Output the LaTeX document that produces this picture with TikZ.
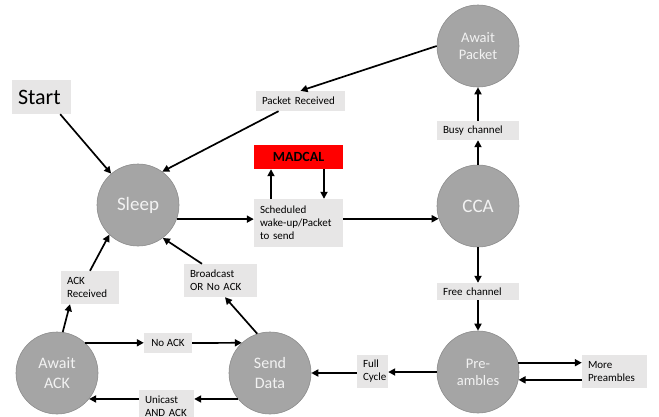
\documentclass[tikz,border=0pt]{standalone}
\usepackage{fontspec}
\setmainfont{Carlito}
\usetikzlibrary{arrows.meta}
\definecolor{circfill}{HTML}{A5A5A5}
\definecolor{circdraw}{HTML}{8C8C8C}
\definecolor{lblfill}{HTML}{E7E6E6}
\definecolor{circtext}{HTML}{F2F2F2}
\begin{document}
\begin{tikzpicture}[x=1pt,y=-1pt,
  state/.style={circle,fill=circfill,draw=circdraw,line width=0.6pt,minimum size=82pt,inner sep=0pt,text=circtext,align=center},
  lbl/.style={fill=lblfill,inner xsep=6pt,inner ysep=0pt,align=left,font=\fontsize{11}{13}\selectfont},
  arr/.style={line width=1.7pt,-{Triangle[length=7pt,width=7pt]}}]
\useasboundingbox (0,0) rectangle (659,416);
\clip (0,0) rectangle (659,416);
% states
\node[state,font=\fontsize{19}{22}\selectfont] (Sleep) at (138,205) {Sleep};
\node[state,font=\fontsize{14.5}{17}\selectfont] (AP) at (478,46) {Await\\Packet};
\node[state,font=\fontsize{19}{22}\selectfont] (CCA) at (478,206) {CCA};
\node[state,font=\fontsize{14.5}{17}\selectfont] (Pre) at (478,372) {Pre-\\ambles};
\node[state,font=\fontsize{16}{20}\selectfont] (Send) at (270,373) {Send\\Data};
\node[state,font=\fontsize{16}{20}\selectfont] (AA) at (57,373) {Await\\ACK};
% labels
\node[lbl,font=\fontsize{22}{26}\selectfont,text width=47pt,minimum height=34pt] (Start) at (41.5,97) {Start};
\node[lbl,text width=77pt,minimum height=20pt] (PR) at (300.5,101) {Packet Received};
\node[fill=red,inner sep=0pt,minimum width=89pt,minimum height=24pt,font=\fontsize{14}{16}\selectfont\bfseries] (MC) at (298.5,157) {MADCAL};
\node[lbl,text width=77pt,minimum height=48pt] (Sch) at (298.5,223) {Scheduled\\wake-up/Packet\\to send};
\node[lbl,text width=70pt,minimum height=19pt] (Busy) at (478,130.5) {Busy channel};
\node[lbl,text width=70pt,minimum height=17pt] (Free) at (478,291.5) {Free channel};
\node[lbl,text width=19pt,minimum height=33pt] (Full) at (372.5,371.5) {Full\\Cycle};
\node[lbl,text width=53pt,minimum height=33pt] (More) at (614.5,371.5) {More\\Preambles};
\node[lbl,text width=61pt,minimum height=33pt] (BC) at (220.5,280.5) {Broadcast\\OR No ACK};
\node[lbl,text width=46pt,minimum height=33pt] (AR) at (90,287.5) {ACK\\Received};
\node[lbl,inner xsep=0pt,align=center,minimum width=48pt,minimum height=20pt] (NA) at (168,343) {No ACK};
\node[lbl,inner xsep=6pt,text width=43pt,minimum height=33pt] (Uni) at (166.5,406.5) {Unicast\\AND~ACK};
% connectors
\draw[arr] ([xshift=-11pt]Start.south east) -- (Sleep);
\draw[arr] (AP.west) -- (PR.north);
\draw[arr] ([xshift=-22pt]PR.south) -- (Sleep.54);
\draw[arr] (Sleep.-20) -- (Sleep.-20 -| Sch.west);
\draw[arr] ([xshift=-27.5pt]Sch.north) -- ([xshift=-27.5pt]MC.south);
\draw[arr] ([xshift=25.5pt]MC.south) -- ([xshift=25.5pt]Sch.north);
\draw[arr] (CCA.-162 -| Sch.east) -- (CCA.-162);
\draw[arr] (CCA) -- (Busy);
\draw[arr] (Busy) -- (AP);
\draw[arr] (CCA) -- (Free);
\draw[arr] (Free) -- (Pre);
\draw[arr] (Pre.13) -- (Pre.13 -| More.west);
\draw[arr] (Pre.-11 -| More.west) -- (Pre.-11);
\draw[arr] (Pre.west) -- (Pre.west -| Full.east);
\draw[arr] (Send.east -| Full.west) -- (Send.east);
\draw[arr] (Send.108) -- ([xshift=4.5pt]BC.south);
\draw[arr] ([xshift=-18.5pt]BC.north) -- (Sleep.-53);
\draw[arr] (AA.82) -- ([xshift=-20pt]AR.south);
\draw[arr] (AR.north) -- (Sleep.-134);
\draw[arr] (AA.47) -- (AA.47 -| NA.west);
\draw[arr] (NA.east) -- (Send.133);
\draw[arr] (Send.-141) -- (Send.-141 -| Uni.east);
\draw[arr] (AA.-39 -| Uni.west) -- (AA.-39);
\end{tikzpicture}
\end{document}
